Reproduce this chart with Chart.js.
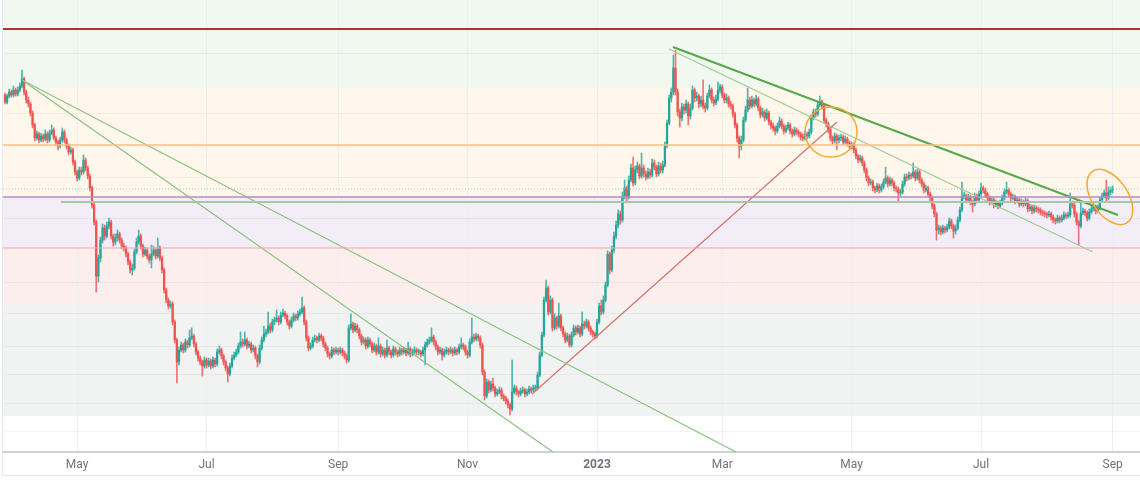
<!DOCTYPE html>
<html><head><meta charset="utf-8">
<script src="https://cdn.jsdelivr.net/npm/chart.js@4.4.1/dist/chart.umd.min.js"></script>
<style>html,body{margin:0;padding:0;background:#fff;}canvas{display:block}</style>
</head><body>
<canvas id="c" width="1140" height="481"></canvas>
<script>
// Daily candles, index 0 = 28 Mar 2022 (price units are arbitrary)
const openP=[405,398,404,408,405,410,406,410,414,421,408,400,396,387,375,362,366,360,364,361,366,360,367,370,362,358,354,360,368,360,354,348,350,338,328,322,330,328,340,332,324,312,295,278,224,242,260,272,264,274,278,264,258,262,266,260,254,252,246,238,230,232,248,258,264,254,246,250,244,240,246,250,244,252,242,230,210,200,194,196,178,160,138,150,155,150,158,155,162,164,156,148,142,138,134,140,135,139,134,140,136,148,150,144,138,132,126,134,142,145,148,154,158,156,160,154,156,150,152,144,138,152,160,166,168,174,170,178,180,182,178,185,187,184,178,174,180,184,182,186,188,192,178,162,152,154,160,162,160,164,162,156,152,146,144,150,148,150,148,150,147,144,140,172,176,170,174,170,164,158,160,154,160,156,150,154,148,154,146,150,145,152,148,145,151,148,146,150,148,150,147,151,146,148,150,148,148,146,150,155,158,160,163,158,153,148,150,145,148,150,148,150,147,150,148,153,155,153,148,145,158,163,161,164,162,155,128,104,118,110,116,112,106,108,110,104,102,99,95,91,108,112,108,106,109,110,106,108,111,110,112,112,125,145,165,200,212,188,200,172,182,174,184,172,166,160,164,155,165,172,168,172,166,176,174,178,172,168,166,164,178,194,188,200,215,246,230,250,264,275,286,280,304,312,303,320,332,317,330,334,324,332,326,323,328,325,337,333,326,334,330,335,355,377,402,408,432,408,388,382,393,390,396,384,392,410,402,404,396,400,394,392,404,410,400,397,401,410,413,405,400,402,396,394,386,375,362,354,360,380,390,400,394,400,396,401,392,385,388,382,387,378,374,372,369,374,379,374,369,372,375,369,366,370,368,366,363,362,366,364,368,382,388,386,395,398,394,380,376,370,362,359,364,360,362,363,358,361,357,354,355,350,344,340,342,337,330,322,317,318,312,310,314,310,313,318,322,316,320,317,312,311,307,308,316,323,322,325,324,328,322,328,320,316,310,312,306,302,294,286,270,272,268,272,270,273,279,274,269,272,280,290,304,304,300,303,298,296,304,300,306,312,310,306,302,298,300,295,297,294,297,302,308,310,306,302,303,299,300,296,298,296,299,291,293,289,292,291,290,288,287,286,285,286,283,280,279,282,280,282,285,284,285,296,295,286,278,274,287,289,287,282,288,291,293,289,292,300,304,307,302,308,310];
const highP=[407,406,411,410,414,412,413,417,430,423,410,403,398,389,377,369,368,367,366,370,368,370,375,372,364,360,363,372,370,362,356,353,352,340,330,333,333,345,342,334,326,314,297,280,245,263,276,275,278,282,280,266,266,270,268,262,257,254,248,240,236,251,262,270,266,256,253,252,246,255,254,252,262,254,244,232,212,202,199,198,180,162,153,158,157,161,160,170,172,166,158,150,144,140,143,142,142,141,143,142,151,154,152,146,140,134,137,145,148,151,157,168,161,168,162,159,158,155,154,146,155,163,174,171,188,177,181,183,190,184,188,191,189,186,180,183,187,186,189,191,203,194,180,164,157,163,165,164,167,166,164,158,154,148,153,152,153,152,153,152,149,146,175,186,178,177,176,172,166,163,162,163,162,158,157,156,162,156,153,152,160,154,150,154,153,150,153,152,153,152,158,153,151,153,152,151,150,153,158,161,163,172,165,160,155,153,152,151,153,152,153,152,153,152,156,162,157,155,150,161,182,166,167,166,164,157,130,121,120,119,122,114,111,113,112,106,104,101,97,140,115,114,110,112,113,112,111,114,113,115,115,128,148,168,203,220,214,204,202,186,184,197,186,174,168,167,166,168,175,174,175,174,188,179,181,180,174,170,168,181,197,200,204,218,249,248,254,268,279,290,289,308,320,314,324,336,343,334,338,336,347,335,329,332,331,341,340,335,338,337,339,358,380,405,412,445,450,411,391,397,396,400,398,396,414,412,408,406,404,420,397,407,415,412,403,405,418,416,415,407,406,404,399,396,388,377,364,364,383,394,412,403,404,402,405,403,394,392,390,391,389,380,377,374,377,383,381,376,375,378,377,371,373,372,370,368,366,369,368,371,385,391,391,398,404,400,396,382,378,372,364,367,366,365,366,365,364,363,359,358,357,352,346,345,344,339,332,324,321,320,314,317,316,316,321,333,324,323,322,319,314,313,311,319,326,326,328,327,337,330,331,330,322,318,315,314,308,304,296,288,275,274,275,274,276,282,281,276,275,283,293,318,308,306,306,305,300,307,306,309,317,314,312,308,304,303,302,300,299,300,305,311,318,312,308,306,305,303,302,301,300,302,301,296,295,295,294,293,292,290,289,288,289,288,285,282,285,284,285,288,287,288,307,299,297,288,280,297,292,291,289,291,294,296,295,295,303,307,310,320,313,313,314];
const lowP=[396,396,402,403,403,404,404,408,412,405,397,393,384,372,359,360,357,358,358,359,357,358,365,360,355,350,352,358,357,351,345,346,335,325,319,320,325,326,329,321,309,292,275,208,218,238,257,260,262,271,261,254,255,259,257,251,249,243,235,227,225,230,246,256,251,243,244,241,237,232,244,241,242,239,227,207,197,191,192,175,157,117,135,148,147,148,152,153,160,153,145,139,135,124,132,132,133,131,132,133,134,146,141,135,129,118,124,132,140,143,146,152,153,154,151,152,147,148,141,133,136,150,158,163,166,167,168,175,178,175,176,183,181,175,171,172,178,179,180,184,186,175,159,149,150,152,158,157,158,159,153,149,143,141,142,145,146,145,146,144,141,137,138,170,167,168,167,161,155,156,151,152,153,147,148,145,146,143,144,142,143,145,142,143,145,143,144,145,146,144,145,143,144,146,145,145,143,144,135,153,156,158,155,150,145,146,140,143,146,145,146,144,145,145,146,151,150,145,142,143,156,158,159,159,152,125,100,102,107,108,109,103,104,106,101,99,96,92,85,89,106,105,103,104,107,103,104,106,107,108,109,110,123,143,163,198,185,186,169,170,171,172,169,163,157,158,153,153,163,165,166,163,164,171,172,169,165,163,161,162,176,185,186,198,213,226,228,247,261,272,276,278,301,299,301,318,314,315,327,321,322,323,320,321,322,323,330,323,324,327,327,333,352,375,398,405,405,384,373,379,386,387,375,381,390,398,399,392,393,391,388,390,402,397,394,395,399,407,402,397,397,393,391,383,372,358,342,350,358,378,388,391,392,393,394,389,382,383,379,380,375,371,369,365,367,372,371,366,367,370,366,363,364,365,363,360,359,360,361,362,366,380,383,384,393,391,377,373,367,359,356,357,350,357,359,355,356,354,351,351,347,341,337,338,334,327,319,314,315,309,307,308,307,308,311,316,313,314,314,309,308,298,304,306,314,319,320,321,322,319,320,317,313,307,308,303,299,291,283,260,266,265,266,267,268,271,271,262,266,270,278,288,301,297,298,295,288,294,297,298,304,307,303,299,295,296,292,293,291,292,295,300,306,303,299,300,296,297,293,294,293,294,288,289,286,287,288,287,285,284,283,282,283,280,277,276,277,277,278,280,281,282,283,292,283,275,255,272,285,284,279,280,286,289,286,287,290,298,302,299,300,305,307];
const closeP=[398,404,408,405,410,406,410,414,421,408,400,396,387,375,362,366,360,364,361,366,360,367,370,362,358,354,360,368,360,354,348,350,338,328,322,330,328,340,332,324,312,295,278,224,242,260,272,264,274,278,264,258,262,266,260,254,252,246,238,230,232,248,258,264,254,246,250,244,240,246,250,244,252,242,230,210,200,194,196,178,160,138,150,155,150,158,155,162,164,156,148,142,138,134,140,135,139,134,140,136,148,150,144,138,132,126,134,142,145,148,154,158,156,160,154,156,150,152,144,138,152,160,166,168,174,170,178,180,182,178,185,187,184,178,174,180,184,182,186,188,192,178,162,152,154,160,162,160,164,162,156,152,146,144,150,148,150,148,150,147,144,140,172,176,170,174,170,164,158,160,154,160,156,150,154,148,154,146,150,145,152,148,145,151,148,146,150,148,150,147,151,146,148,150,148,148,146,150,155,158,160,163,158,153,148,150,145,148,150,148,150,147,150,148,153,155,153,148,145,158,163,161,164,162,155,128,104,118,110,116,112,106,108,110,104,102,99,95,91,108,112,108,106,109,110,106,108,111,110,112,112,125,145,165,200,212,188,200,172,182,174,184,172,166,160,164,155,165,172,168,172,166,176,174,178,172,168,166,164,178,194,188,200,215,246,230,250,264,275,286,280,304,312,303,320,332,317,330,334,324,332,326,323,328,325,337,333,326,334,330,335,355,377,402,408,432,408,388,382,393,390,396,384,392,410,402,404,396,400,394,392,404,410,400,397,401,410,413,405,400,402,396,394,386,375,362,354,360,380,390,400,394,400,396,401,392,385,388,382,387,378,374,372,369,374,379,374,369,372,375,369,366,370,368,366,363,362,366,364,368,382,388,386,395,398,394,380,376,370,362,359,364,360,362,363,358,361,357,354,355,350,344,340,342,337,330,322,317,318,312,310,314,310,313,318,322,316,320,317,312,311,307,308,316,323,322,325,324,328,322,328,320,316,310,312,306,302,294,286,270,272,268,272,270,273,279,274,269,272,280,290,304,304,300,303,298,296,304,300,306,312,310,306,302,298,300,295,297,294,297,302,308,310,306,302,303,299,300,296,298,296,299,291,293,289,292,291,290,288,287,286,285,286,283,280,279,282,280,282,285,284,285,296,295,286,278,274,287,289,287,282,288,291,293,289,292,300,304,307,302,308,310,311];

// x-axis tick positions (candle index) and labels
const tickIndex=[34,95,157,218,279,338,399,460,522];
const tickLabels=['May','Jul','Sep','Nov','2023','Mar','May','Jul','Sep'];
// horizontal price grid levels
const gridLevels=[447,387,322,282,218,187,154,126,97,69];
// price zones
const bandFrom=[412,303,252,195,84];
const bandTo=[500,412,303,252,195];
const bandColors=['#f1f8f0','#fff6ec','#f3edf8','#fdeeee','#f1f3f2'];
// horizontal levels [price, startIndex]
const levelRed=[471,-1];
const levelOrange=[355,-1];
const levelDotted=[311,-1];
const levelPurple=[303,-1];
const levelPink=[252,-1];
const levelGreen=[298,26.4];
// trend lines [[index, price],[index, price]]
const trendA=[[8.0,420],[258.2,48]];
const trendB=[[8.0,420],[344.5,48]];
const trendRed=[[248.4,106],[392.1,378]];
const trendThick=[[314.8,453],[524.5,285]];
const trendThin=[[312.9,451],[512.7,248]];
// highlighted zones [index, price]
const ellipseCenters=[[389.3,368],[520.7,303]];

const X_MIN=-0.94, X_MAX=534.9, Y_MIN=48, Y_MAX=500;
const UP='#26a69a', DOWN='#ef5350';
const idx=closeP.map((_,i)=>i);
const bodyColors=idx.map(i=>closeP[i]>=openP[i]?UP:DOWN);
const wickColors=idx.map(i=>closeP[i]>=openP[i]?'rgba(38,166,154,0.8)':'rgba(239,83,80,0.8)');

function seg(p){return p.map(q=>({x:q[0],y:q[1]}));}
function hline(l){return [{x:l[1]<0?X_MIN:l[1],y:l[0]},{x:X_MAX,y:l[0]}];}
function lineDs(data,color,width,dash){return {type:'line',data,borderColor:color,borderWidth:width,borderDash:dash||[],pointRadius:0,fill:false,tension:0,order:0};}

const bandsPlugin={id:'bands',beforeDraw(chart){
  const {ctx,chartArea:a,scales:{y}}=chart;
  ctx.save();
  bandFrom.forEach((f,k)=>{
    const yt=y.getPixelForValue(bandTo[k]), yb=y.getPixelForValue(f);
    ctx.fillStyle=bandColors[k];
    ctx.fillRect(a.left,yt,a.right-a.left,yb-yt);
  });
  ctx.restore();
}};
const ellipsePlugin={id:'ellipses',afterDatasetsDraw(chart){
  const {ctx,scales:{x,y}}=chart;
  ctx.save();
  ctx.strokeStyle='#f6a834';ctx.lineWidth=1.5;
  const shapes=[[26,25,0],[31,18,56*Math.PI/180]];
  ellipseCenters.forEach((c,k)=>{
    ctx.beginPath();
    ctx.ellipse(x.getPixelForValue(c[0]),y.getPixelForValue(c[1]),shapes[k][0],shapes[k][1],shapes[k][2],0,Math.PI*2);
    ctx.stroke();
  });
  ctx.restore();
},afterDraw(chart){
  const ctx=chart.ctx;
  ctx.save();ctx.strokeStyle='#e6e8ed';ctx.lineWidth=1;
  ctx.beginPath();ctx.moveTo(2.5,0);ctx.lineTo(2.5,476);ctx.moveTo(3,475.5);ctx.lineTo(1140,475.5);ctx.stroke();
  ctx.restore();
}};

new Chart(document.getElementById('c'),{
  type:'bar',
  data:{datasets:[
    lineDs(hline(levelRed),'#b5312f',2),
    lineDs(hline(levelOrange),'#fbbf88',1.5),
    lineDs(hline(levelDotted),'#a9c6bf',1,[1,2]),
    lineDs(hline(levelPurple),'#b58bcb',1.5),
    lineDs(hline(levelPink),'#f6a5a9',1),
    lineDs(hline(levelGreen),'#a6c9a2',2),
    lineDs(seg(trendA),'#8cc281',1.2),
    lineDs(seg(trendB),'#8cc281',1.2),
    lineDs(seg(trendRed),'#d8736c',1.2),
    lineDs(seg(trendThin),'#9dcf90',1.3),
    lineDs(seg(trendThick),'#58a84a',2),
    {type:'bar',data:idx.map(i=>({x:i,y:[lowP[i],highP[i]]})),backgroundColor:wickColors,barThickness:1,grouped:false,order:2},
    {type:'bar',data:idx.map(i=>({x:i,y:[openP[i],closeP[i]]})),backgroundColor:bodyColors,barThickness:1.6,minBarLength:1,grouped:false,order:1}
  ]},
  options:{
    responsive:false,animation:false,events:[],
    layout:{padding:{left:3,right:0,top:0,bottom:0}},
    plugins:{legend:{display:false},tooltip:{enabled:false}},
    scales:{
      x:{type:'linear',min:X_MIN,max:X_MAX,offset:false,
        afterBuildTicks:s=>{s.ticks=tickIndex.map(v=>({value:v}));},
        afterFit:s=>{s.height=29;},
        ticks:{autoSkip:false,maxRotation:0,padding:6,color:'#6f727d',
          font:c=>({family:'Roboto',size:12,weight:(c.tick&&c.tick.value===279)?'bold':'normal'}),
          callback:v=>{const k=tickIndex.indexOf(v);return k>=0?tickLabels[k]:'';}},
        grid:{color:'#eceef3',drawTicks:false,offset:false,lineWidth:1},
        border:{display:true,color:'#cfd1d6',width:2}
      },
      y:{type:'linear',min:Y_MIN,max:Y_MAX,position:'left',
        afterBuildTicks:s=>{s.ticks=gridLevels.map(v=>({value:v}));},
        afterFit:s=>{s.width=0;},
        ticks:{display:false},
        grid:{color:'rgba(42,46,57,0.05)',drawTicks:false},
        border:{display:false}
      }
    }
  },
  plugins:[bandsPlugin,ellipsePlugin]
});
</script>
</body></html>
